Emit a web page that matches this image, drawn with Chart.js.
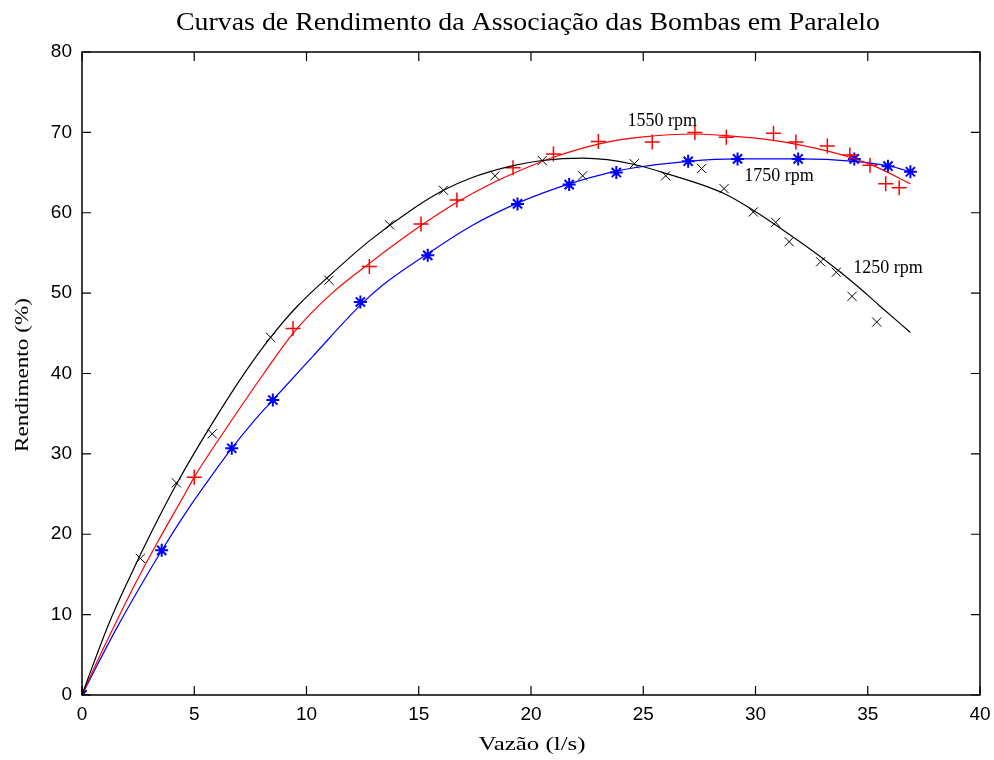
<!DOCTYPE html>
<html>
<head>
<meta charset="utf-8">
<script src="https://cdn.jsdelivr.net/npm/chart.js@4.4.1/dist/chart.umd.min.js"></script>
<style>
  html, body { margin: 0; padding: 0; background: #ffffff; }
  canvas { display: block; }
</style>
</head>
<body>
<canvas id="rendChart" width="994" height="760"></canvas>
<script>
// Measured points (flow l/s, efficiency %)
const q1250 = [0, 2.6, 4.2, 5.8, 8.4, 11.0, 13.7, 16.1, 18.4, 20.5, 22.3, 24.6, 26.0, 27.6, 28.6, 29.9, 30.9, 31.5, 32.9, 33.6, 34.3, 35.4];
const e1250 = [0, 17.0, 26.4, 32.5, 44.5, 51.6, 58.5, 62.8, 64.6, 66.5, 64.6, 66.1, 64.6, 65.5, 63.0, 60.1, 58.8, 56.4, 53.9, 52.6, 49.6, 46.4];

const q1550 = [0, 5.0, 9.4, 12.8, 15.1, 16.7, 19.2, 21.0, 23.0, 25.4, 27.3, 28.7, 30.8, 31.8, 33.2, 34.2, 35.1, 35.8, 36.4];
const e1550 = [0, 27.1, 45.6, 53.3, 58.6, 61.6, 65.6, 67.3, 68.85, 68.8, 70.0, 69.4, 69.9, 68.8, 68.3, 67.2, 65.9, 63.6, 63.1];

const q1750 = [0, 3.55, 6.67, 8.5, 12.4, 15.4, 19.4, 21.7, 23.8, 27.0, 29.2, 31.9, 34.4, 35.9, 36.9];
const e1750 = [0, 18.0, 30.7, 36.7, 48.9, 54.7, 61.1, 63.5, 65.0, 66.4, 66.7, 66.7, 66.7, 65.8, 65.1];

// Fitted curves
const fitQ1250 = [0, 0.3, 1.2, 2.1, 3.1, 4.2, 5.8, 7.3, 8.4, 9.6, 11.0, 12.8, 14.8, 16.1, 17.3, 19.1, 20.5, 22.3, 23.4, 24.6, 26.0, 28.6, 29.9, 31.4, 33.0, 34.4, 35.5, 36.9];
const fitE1250 = [0, 2.3, 8.9, 14.5, 20.3, 26.2, 33.8, 40.3, 44.5, 48.4, 52.1, 56.5, 60.6, 62.8, 64.3, 65.8, 66.5, 66.8, 66.6, 66.0, 64.9, 62.4, 60.3, 57.5, 54.3, 51.2, 48.5, 45.1];

const fitQ1550 = [0, 0.4, 1.3, 2.4, 3.4, 4.6, 5.0, 6.6, 8.1, 9.4, 11.1, 12.8, 15.1, 16.7, 18.0, 19.3, 21.0, 23.1, 24.9, 27.3, 28.7, 30.8, 32.7, 34.2, 35.3, 36.9];
const fitE1550 = [0, 2.5, 7.8, 14.0, 19.2, 25.1, 27.1, 33.9, 40.0, 45.0, 49.9, 53.7, 58.4, 61.3, 63.3, 65.0, 66.9, 68.6, 69.4, 69.8, 69.6, 69.0, 68.0, 66.9, 65.8, 63.6];

const fitQ1750 = [0, 0.6, 1.6, 2.7, 3.6, 4.7, 5.6, 6.7, 7.6, 8.5, 10.3, 12.4, 13.4, 15.4, 17.3, 19.4, 21.7, 23.5, 24.6, 27.0, 29.2, 31.9, 34.4, 36.0, 36.9];
const fitE1750 = [0, 3.3, 8.6, 14.0, 18.2, 23.0, 26.6, 30.8, 33.9, 36.7, 42.2, 48.5, 51.0, 54.9, 58.3, 61.2, 63.6, 65.0, 65.6, 66.4, 66.7, 66.7, 66.4, 65.8, 65.1];

// Curve labels: text, flow, efficiency
const curveLabels = [
  { text: '1550 rpm', q: 24.3, e: 71.4 },
  { text: '1750 rpm', q: 29.5, e: 64.5 },
  { text: '1250 rpm', q: 34.35, e: 53.1 }
];

const xTicks = [0, 5, 10, 15, 20, 25, 30, 35, 40];
const yTicks = [0, 10, 20, 30, 40, 50, 60, 70, 80];

const titleText = 'Curvas de Rendimento da Associação das Bombas em Paralelo';
const xTitle = 'Vazão (l/s)';
const yTitle = 'Rendimento (%)';

function pts(qs, es) {
  return qs.map((q, i) => ({ x: q, y: es[i] }));
}

function lineSet(qs, es, color) {
  return {
    type: 'line',
    data: pts(qs, es),
    borderColor: color,
    borderWidth: 1.2,
    pointRadius: 0,
    fill: false,
    cubicInterpolationMode: 'monotone'
  };
}

function markSet(qs, es, color, style, radius, width) {
  return {
    type: 'scatter',
    data: pts(qs, es),
    borderColor: color,
    backgroundColor: color,
    pointStyle: style,
    pointRadius: radius,
    pointBorderWidth: width,
    showLine: false
  };
}

// draw text squeezed/stretched to a target width
function stretchText(ctx, text, cx, cy, font, width, rotate) {
  ctx.save();
  ctx.font = font;
  const w = ctx.measureText(text).width;
  ctx.translate(cx, cy);
  if (rotate) ctx.rotate(-Math.PI / 2);
  ctx.scale(width / w, 1);
  ctx.textAlign = 'center';
  ctx.textBaseline = 'middle';
  ctx.fillStyle = '#000';
  ctx.fillText(text, 0, 0);
  ctx.restore();
}

const framePlugin = {
  id: 'frame',
  afterDraw(chart) {
    const ctx = chart.ctx;
    const a = chart.chartArea;
    const xs = chart.scales.x, ys = chart.scales.y;
    ctx.save();
    ctx.strokeStyle = '#000';
    ctx.lineWidth = 1.5;
    ctx.strokeRect(a.left, a.top, a.right - a.left, a.bottom - a.top);
    ctx.lineWidth = 1.2;
    ctx.beginPath();
    xTicks.forEach(v => {
      const px = xs.getPixelForValue(v);
      ctx.moveTo(px, a.bottom); ctx.lineTo(px, a.bottom - 9);
      ctx.moveTo(px, a.top); ctx.lineTo(px, a.top + 9);
    });
    yTicks.forEach(v => {
      const py = ys.getPixelForValue(v);
      ctx.moveTo(a.left, py); ctx.lineTo(a.left + 9, py);
      ctx.moveTo(a.right, py); ctx.lineTo(a.right - 9, py);
    });
    ctx.stroke();

    // curve labels
    ctx.font = '18px "Liberation Serif", "DejaVu Serif", serif';
    ctx.fillStyle = '#000';
    ctx.textAlign = 'left';
    ctx.textBaseline = 'middle';
    curveLabels.forEach(l => {
      ctx.fillText(l.text, xs.getPixelForValue(l.q), ys.getPixelForValue(l.e));
    });
    ctx.restore();

    // title and axis titles
    stretchText(ctx, titleText, 528, 23, '25px "Liberation Serif", serif', 704, false);
    stretchText(ctx, xTitle, 532, 745, '18px "Liberation Serif", serif', 107, false);
    stretchText(ctx, yTitle, 23, 375, '18px "Liberation Serif", serif', 154, true);
  }
};

const ctx = document.getElementById('rendChart').getContext('2d');
const rendChart = new Chart(ctx, {
  type: 'scatter',
  data: {
    datasets: [
      lineSet(fitQ1250, fitE1250, '#000000'),
      lineSet(fitQ1550, fitE1550, '#ff0000'),
      lineSet(fitQ1750, fitE1750, '#0000ff'),
      markSet(q1250, e1250, '#000000', 'crossRot', 6.5, 1),
      markSet(q1550, e1550, '#ff0000', 'cross', 7.5, 1.5),
      markSet(q1750, e1750, '#0000ff', 'star', 6.5, 2)
    ]
  },
  options: {
    responsive: false,
    animation: false,
    devicePixelRatio: 1,
    layout: { padding: { top: 52, right: 14, left: 0, bottom: 0 } },
    plugins: {
      legend: { display: false },
      tooltip: { enabled: false },
      title: { display: false }
    },
    scales: {
      x: {
        type: 'linear',
        min: 0,
        max: 40,
        afterBuildTicks: s => { s.ticks = xTicks.map(v => ({ value: v })); },
        afterFit: s => { s.height = 65; s.paddingLeft = 0; s.paddingRight = 0; },
        grid: { display: false, drawTicks: false },
        border: { display: false },
        ticks: {
          color: '#000',
          padding: 8,
          font: { family: '"Liberation Sans", Arial, sans-serif', size: 19 }
        }
      },
      y: {
        type: 'linear',
        min: 0,
        max: 80,
        afterBuildTicks: s => { s.ticks = yTicks.map(v => ({ value: v })); },
        afterFit: s => { s.width = 82; s.paddingTop = 0; s.paddingBottom = 0; },
        grid: { display: false, drawTicks: false },
        border: { display: false },
        ticks: {
          color: '#000',
          padding: 10,
          font: { family: '"Liberation Sans", Arial, sans-serif', size: 19 }
        }
      }
    }
  },
  plugins: [framePlugin]
});
</script>
</body>
</html>
